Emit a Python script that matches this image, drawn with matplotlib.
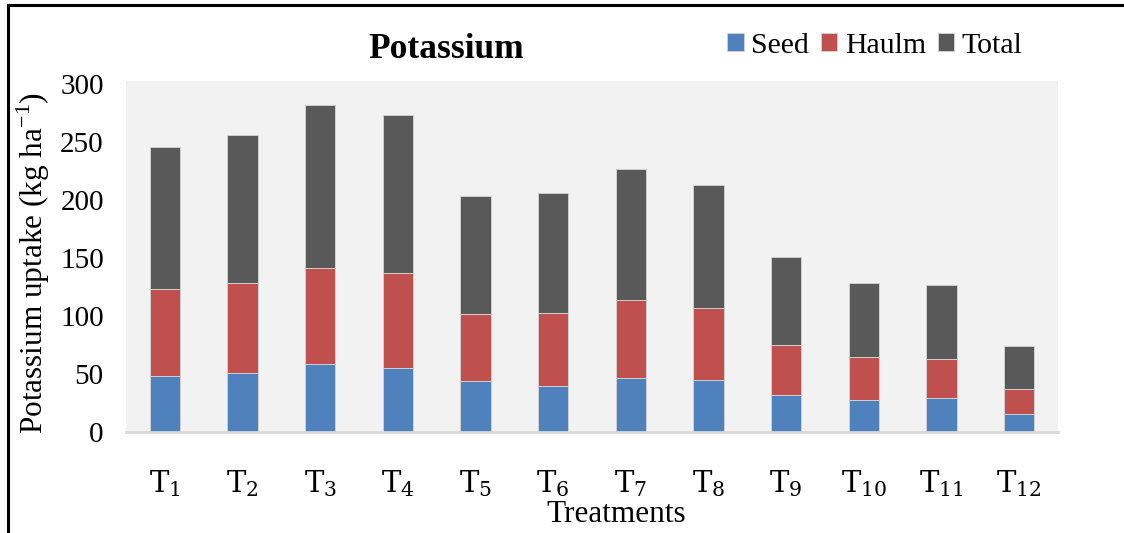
import numpy as np
import matplotlib
matplotlib.use("Agg")
from matplotlib import pyplot as plt
from matplotlib.patches import Rectangle

# values (kg/ha)
treatments = ["1", "2", "3", "4", "5", "6", "7", "8", "9", "10", "11", "12"]
seed = [48.0, 50.6, 59.0, 55.0, 43.7, 39.4, 46.3, 44.5, 31.6, 27.3, 29.0, 15.8]
haulm = [75.0, 77.4, 82.0, 81.8, 58.0, 63.4, 67.2, 62.1, 43.7, 37.1, 34.2, 21.2]
total = [123.0, 128.0, 141.0, 136.8, 101.7, 102.8, 113.5, 106.6, 75.3, 64.4, 63.2, 37.0]
yticks = [0, 50, 100, 150, 200, 250, 300]

plt.rcParams['font.family'] = ['Liberation Serif', 'DejaVu Serif']
plt.rcParams['mathtext.fontset'] = 'dejavuserif'

W, H = 1124, 533
fig = plt.figure(figsize=(W / 100, H / 100), dpi=100)
ax = fig.add_axes([126 / W, 1 - 432 / H, (1058 - 126) / W, (432 - 81) / H])
ax.set_facecolor('#f2f2f2')

x = np.arange(len(treatments))
seed = np.array(seed)
haulm = np.array(haulm)
total = np.array(total)
w = 0.39
kw = dict(width=w, edgecolor='#d0d0d0', linewidth=0.7)
ax.bar(x, seed, color='#4f81bd', label='Seed', **kw)
ax.bar(x, haulm, bottom=seed, color='#c0504d', label='Haulm', **kw)
ax.bar(x, total, bottom=seed + haulm, color='#595959', label='Total', **kw)

ax.set_xlim(-0.5, len(x) - 0.5)
ax.set_ylim(0, 302.5)
ax.set_yticks(yticks)
ax.set_yticklabels([str(v) for v in yticks], fontsize=21)
ax.set_xticks(x)
ax.set_xticklabels([r'$\mathrm{T}_{%s}$' % t for t in treatments], fontsize=21)
ax.tick_params(axis='y', length=0, pad=16)
ax.tick_params(axis='x', length=0, pad=26)
for s in ['top', 'right', 'left']:
    ax.spines[s].set_visible(False)
ax.spines['bottom'].set_color('#d9d9d9')
ax.spines['bottom'].set_linewidth(2)

fig.text(446 / W, 1 - 49 / H, 'Potassium', fontsize=25.5, fontweight='bold',
         ha='center', va='center')
fig.text(33 / W, 1 - 263 / H, r'Potassium uptake (kg ha$^{\mathregular{-1}}$)',
         fontsize=22.5, rotation=90, ha='center', va='center')
fig.text(616 / W, 1 - 515 / H, 'Treatments', fontsize=22.5, ha='center', va='center')

leg = fig.legend(loc='center', bbox_to_anchor=(875 / W, 1 - 46 / H), ncol=3,
                 frameon=False, fontsize=21.5, handlelength=0.55, handleheight=0.55,
                 handletextpad=0.25, columnspacing=0.4, borderaxespad=0)

# chart border (cut off on right and bottom in the reference)
fig.patches.append(Rectangle((8 / W, -0.1), 1.2, 1 - 5 / H + 0.1,
                             transform=fig.transFigure, fill=False,
                             edgecolor='black', linewidth=2.2))

fig.savefig('out.png', dpi=100)
